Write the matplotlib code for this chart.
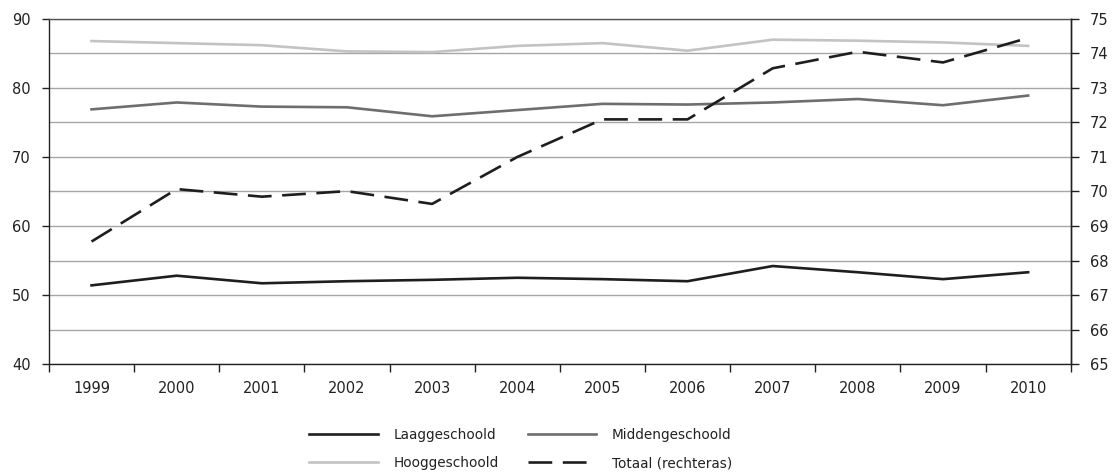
import matplotlib.pyplot as plt
import numpy as np

# Data
jaren = ["1999", "2000", "2001", "2002", "2003", "2004",
         "2005", "2006", "2007", "2008", "2009", "2010"]
laag = [51.4, 52.8, 51.7, 52.0, 52.2, 52.5, 52.3, 52.0, 54.2, 53.3, 52.3, 53.3]
midden = [76.9, 77.9, 77.3, 77.2, 75.9, 76.8, 77.7, 77.6, 77.9, 78.4, 77.5, 78.9]
hoog = [86.8, 86.5, 86.2, 85.3, 85.2, 86.1, 86.5, 85.4, 87.0, 86.85, 86.6, 86.1]
totaal = [68.55, 70.07, 69.85, 70.01, 69.64, 71.0, 72.09, 72.09, 73.57, 74.05, 73.74, 74.45]

plt.rcParams['font.family'] = ['Liberation Sans Narrow', 'DejaVu Sans']
tekst = "#222222"
raster = "#a6a6a6"

fig = plt.figure(figsize=(11.13, 4.74), dpi=100)
ax = fig.add_axes([0.044, 0.232, 0.918, 0.728])
x = np.arange(len(jaren))

l1, = ax.plot(x, laag, color="#1e1e1e", lw=1.9, label="Laaggeschoold", zorder=3)
l2, = ax.plot(x, midden, color="#6e6e6e", lw=1.9, label="Middengeschoold", zorder=3)
l3, = ax.plot(x, hoog, color="#c3c3c3", lw=1.9, label="Hooggeschoold", zorder=3)

ax.set_xlim(-0.5, len(jaren) - 0.5)
ax.set_ylim(40, 90)
ax.set_yticks(np.arange(40, 91, 10))
ax.set_yticks(np.arange(45, 90, 10), minor=True)
ax.grid(axis="y", which="both", color=raster, lw=1.0, zorder=0)
ax.set_axisbelow(True)

# x-as: streepjes tussen de jaren, labels in het midden
ax.set_xticks(np.arange(-0.5, len(jaren), 1))
ax.set_xticklabels([])
ax.set_xticks(x, minor=True)
ax.set_xticklabels(jaren, minor=True)
ax.tick_params(axis="x", which="major", length=6, width=1, color=tekst, direction="out")
ax.tick_params(axis="x", which="minor", length=0, pad=12, labelsize=10.5, labelcolor=tekst)
ax.tick_params(axis="y", which="major", length=5, width=1, color=tekst, labelsize=10.5,
               labelcolor=tekst, pad=8)
ax.tick_params(axis="y", which="minor", length=0)

for s in ["left", "bottom", "right"]:
    ax.spines[s].set_color(tekst)
    ax.spines[s].set_linewidth(1.0)
ax.spines["top"].set_color("#555555")
ax.spines["top"].set_linewidth(1.0)

# rechteras voor het totaal
ax2 = ax.twinx()
l4, = ax2.plot(x, totaal, color="#1e1e1e", lw=1.9, dashes=(9, 4),
               label="Totaal (rechteras)", zorder=3)
ax2.set_ylim(65, 75)
ax2.set_yticks(np.arange(65, 76, 1))
ax2.tick_params(axis="y", length=6, width=1, color=tekst, labelsize=10.5,
                labelcolor=tekst, pad=8)
for s in ["left", "bottom", "top"]:
    ax2.spines[s].set_visible(False)
ax2.spines["right"].set_color(tekst)
ax2.spines["right"].set_linewidth(1.0)

fig.legend([l1, l3, l2, l4],
           ["Laaggeschoold", "Hooggeschoold", "Middengeschoold", "Totaal (rechteras)"],
           ncol=2, loc="center", bbox_to_anchor=(0.468, 0.053),
           frameon=False, fontsize=9.8, handlelength=5.0, handletextpad=1.15,
           columnspacing=2.2, labelspacing=1.05, labelcolor=tekst)

plt.savefig("out.png", dpi=100)
